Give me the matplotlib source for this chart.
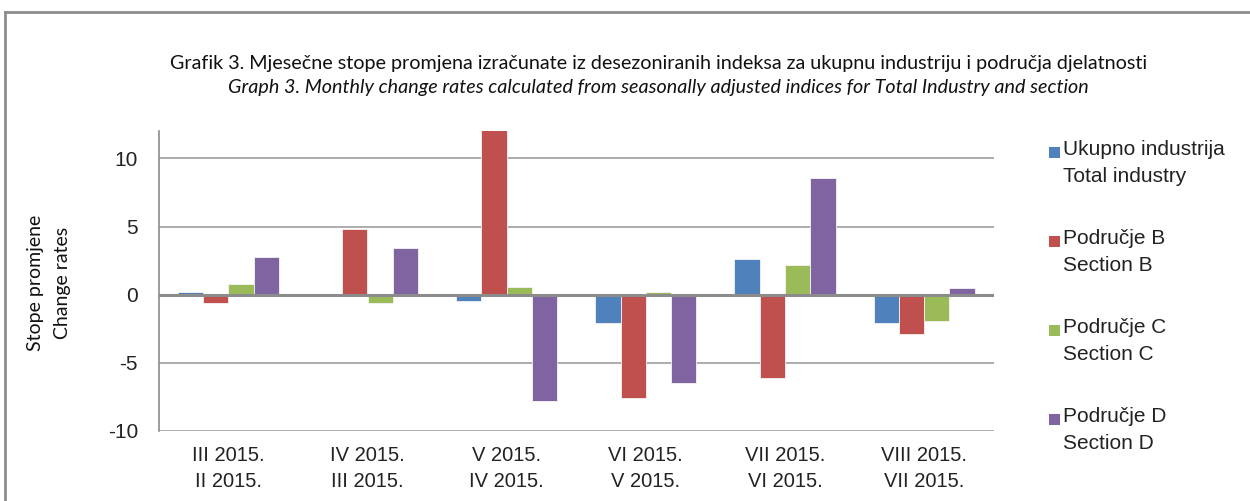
import matplotlib
matplotlib.use("Agg")
import matplotlib.pyplot as plt
import numpy as np
from matplotlib.patches import Rectangle
from matplotlib.lines import Line2D

categories = ["III 2015.\nII 2015.", "IV 2015.\nIII 2015.", "V 2015.\nIV 2015.",
              "VI 2015.\nV 2015.", "VII 2015.\nVI 2015.", "VIII 2015.\nVII 2015."]
series_names = ["Ukupno industrija\nTotal industry", "Područje B\nSection B",
                "Područje C\nSection C", "Područje D\nSection D"]
total_industry = [0.22, 0.0, -0.45, -2.05, 2.6, -2.05]
section_b = [-0.6, 4.8, 12.9, -7.6, -6.1, -2.9]
section_c = [0.8, -0.6, 0.6, 0.2, 2.15, -1.95]
section_d = [2.8, 3.45, -7.8, -6.5, 8.6, 0.5]
y_ticks = [-10, -5, 0, 5, 10]

colors = ["#4F81BD", "#C0504D", "#9BBB59", "#8064A2"]
series = [total_industry, section_b, section_c, section_d]

fig = plt.figure(figsize=(12.5, 5.01), dpi=100)
ax = fig.add_axes([0.127, 0.140, 0.668, 0.598])

x = np.arange(len(categories))
w = 0.182
for i, (vals, c) in enumerate(zip(series, colors)):
    ax.bar(x + (i - 1.5) * w, vals, width=w, color=c, edgecolor="#f4f4f4",
           linewidth=0.6, zorder=3)

ax.set_xlim(-0.5, len(categories) - 0.5)
ax.set_ylim(-10, 12)
ax.set_yticks(y_ticks)
ax.set_yticklabels([str(t) for t in y_ticks], fontsize=15, family=["Liberation Sans", "DejaVu Sans"],
                   color="#222222")
ax.set_xticks(x)
ax.set_xticklabels(categories, fontsize=14.5, family=["Liberation Sans Narrow", "Liberation Sans", "DejaVu Sans"],
                   color="#222222", linespacing=1.45)
ax.tick_params(axis="y", length=0, pad=15)
ax.tick_params(axis="x", length=0, pad=11)
for yv in [-10, -5, 5, 10]:
    ax.axhline(yv, color="#a6a6a6", linewidth=1.3, zorder=1)
ax.axhline(0, color="#8c8c8c", linewidth=2.2, zorder=4)
for s in ["top", "right", "bottom"]:
    ax.spines[s].set_visible(False)
ax.spines["left"].set_color("#8c8c8c")
ax.spines["left"].set_linewidth(1.2)

# y label
fig.text(0.0285, 0.435, "Stope promjene", rotation=90, ha="center", va="center",
         fontsize=14, family=["Lato", "DejaVu Sans"], color="#111111")
fig.text(0.0500, 0.435, "Change rates", rotation=90, ha="center", va="center",
         fontsize=14, family=["Lato", "DejaVu Sans"], color="#111111")

# title
fig.text(0.527, 1 - 63 / 501, "Grafik 3. Mjesečne stope promjena izračunate iz desezoniranih indeksa za ukupnu industriju i područja djelatnosti",
         ha="center", va="center", fontsize=14.2, family=["Lato", "DejaVu Sans"], color="#111111")
fig.text(0.527, 1 - 88 / 501, "Graph 3. Monthly change rates calculated from seasonally adjusted indices for Total Industry and section",
         ha="center", va="center", fontsize=14.2, style="italic", family=["Lato", "DejaVu Sans"], color="#111111")

# legend
ys = [152, 241, 330, 419]
for name, c, yy in zip(series_names, colors, ys):
    fig.patches.append(Rectangle((1049 / 1250, 1 - (yy + 6) / 501), 11 / 1250, 11 / 501,
                                 transform=fig.transFigure, facecolor=c, edgecolor="none"))
    fig.text(1063 / 1250, 1 - (yy - 12) / 501, name, ha="left", va="top", fontsize=15,
             family=["Liberation Sans", "DejaVu Sans"], color="#222222", linespacing=1.55)

# outer border
fig.add_artist(Line2D([5 / 1250, 5 / 1250], [-0.1, 1 - 12 / 501], transform=fig.transFigure,
                      color="#8c8c8c", linewidth=2))
fig.add_artist(Line2D([5 / 1250, 1.1], [1 - 12 / 501, 1 - 12 / 501], transform=fig.transFigure,
                      color="#8c8c8c", linewidth=2))

fig.savefig("out.png", dpi=100)
